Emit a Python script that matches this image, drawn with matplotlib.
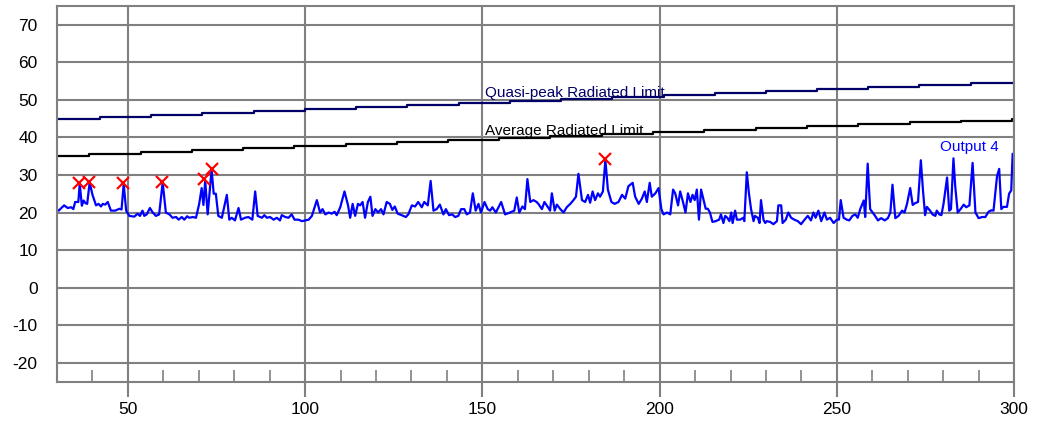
import numpy as np
import matplotlib.pyplot as plt
from matplotlib.ticker import MultipleLocator, FixedLocator

plt.rcParams['font.family'] = ['Liberation Sans', 'DejaVu Sans']
plt.rcParams['axes.unicode_minus'] = False

# measured trace (Output 4)
trace_freq = [
    30.0, 30.5, 31, 32, 33, 34, 34.6, 35.1, 36, 36.4, 37, 37.5, 38, 38.5, 39.2, 40, 41, 41.7, 42.4, 42.9,
    43.6, 44.3, 45.2, 46.4, 47.6, 48.2, 48.8, 49.5, 50.4, 51.8, 52.7, 53.4, 54.1, 54.6, 55.3, 56.2, 57, 57.9,
    58.8, 59.8, 60.7, 61.7, 62.6, 63.6, 64.3, 65.2, 65.9, 66.7, 67.3, 68.3, 69.2, 70.1, 70.8, 71.3, 71.8,
    72.5, 73.6, 74.2, 74.8, 75.5, 76.5, 77.9, 78.6, 79.3, 80.2, 81.2, 81.9, 83, 84, 85.1, 85.9, 86.6, 87.8,
    88.5, 89.2, 90.1, 91.1, 92, 92.9, 93.4, 94.4, 95.3, 96.2, 97, 98.1, 99.1, 100, 101, 101.9, 103.3, 104.2,
    104.9, 105.7, 106.6, 107.5, 108.3, 108.9, 109.9, 111.1, 112.1, 112.7, 113.4, 114.1, 114.9, 115.5, 116.2,
    116.9, 117.7, 118.4, 119, 119.8, 120.6, 121.4, 122.1, 123, 123.9, 124.6, 125.3, 126.1, 127.2, 128.4,
    129.1, 130.1, 131, 131.9, 132.9, 133.6, 134.6, 135.4, 136.2, 137.1, 138, 139, 139.7, 140.6, 141.5,
    142.3, 143.2, 144, 144.9, 145.6, 146.5, 147.3, 148.1, 148.9, 149.6, 150.6, 151.5, 152.2, 152.8, 153.8,
    155.3, 156.4, 157.8, 159, 159.7, 160.4, 161.3, 162, 162.7, 163.5, 164.4, 165.3, 165.8, 166.8, 167.5,
    168.5, 169.1, 169.6, 170.4, 171, 172, 172.9, 173.8, 174.8, 175.7, 176.4, 177.1, 178.1, 179, 179.8,
    180.4, 181.1, 181.8, 182.6, 183.2, 184, 184.7, 185.4, 186.4, 187.3, 188.4, 189.4, 190.3, 191.2, 192.4,
    193.1, 194.1, 195, 195.8, 196.4, 197.2, 197.8, 198.8, 199.7, 200.5, 201.1, 202.1, 203, 203.8, 204.4,
    205.2, 205.8, 206.6, 207.3, 208, 208.7, 209.3, 209.9, 210.5, 211.1, 211.7, 212.4, 213, 213.6, 214.2,
    214.9, 215.8, 216.8, 217.3, 218, 218.5, 219.1, 219.7, 220.2, 220.6, 221.3, 221.8, 222.7, 223.6, 223.9,
    224.6, 225.2, 225.8, 226.5, 226.9, 227.7, 228.2, 228.6, 229.3, 229.8, 230.2, 231.2, 232.1, 233.1,
    233.5, 234.3, 234.7, 235.6, 236.3, 237.1, 238, 239, 239.9, 240.9, 241.8, 242.7, 243.4, 244, 244.8,
    245.6, 246.5, 247.2, 248.1, 249.1, 250, 250.6, 251.1, 251.9, 252.8, 253.5, 254.4, 255.2, 255.9, 256.6,
    257.6, 258, 258.7, 259.4, 260.1, 260.8, 261.6, 262.5, 263.5, 264.4, 265.1, 265.7, 266.5, 267.4, 268.4,
    269.1, 269.8, 270.7, 271.4, 272.1, 272.9, 273.7, 274.3, 274.9, 275.4, 276.3, 277, 277.8, 278.2, 278.9,
    279.5, 280.1, 281.1, 281.7, 282.2, 282.9, 283.4, 284.1, 284.9, 285.8, 286.5, 287.4, 288.3, 289.1, 290,
    291, 291.9, 292.8, 293.6, 294.2, 295.2, 295.8, 296.4, 297, 298, 298.6, 299.2, 299.6, 300]
trace_level = [
    20.8, 20.5, 21, 21.9, 21.2, 21.4, 20.9, 22.8, 22.8, 27.6, 21.8, 23.2, 22.5, 22.3, 28, 24.7, 21.9, 22.3,
    21.6, 22.3, 22.1, 22.8, 20.5, 20.5, 21, 20.8, 27.6, 20.5, 19.1, 18.9, 19.7, 19.1, 20.5, 19.1, 19.5,
    21.2, 20, 19.1, 19.5, 28, 20, 19.5, 18.6, 18.8, 18.1, 18.8, 18.1, 19, 18.6, 18.8, 18.6, 22.3, 26.5, 22,
    28.5, 19.5, 31.4, 25, 25, 19.1, 18.6, 24.7, 18.1, 18.6, 17.9, 21.2, 18.1, 18.6, 18.8, 18.1, 25.6, 19.1,
    18.6, 19.3, 18.6, 18.8, 18.1, 18.6, 17.9, 19.3, 18.8, 18.6, 19.5, 18.1, 18.1, 17.7, 17.9, 18.1, 19.1,
    23.3, 20, 20.9, 19.5, 20, 19.7, 20.2, 19.3, 21.4, 25.6, 21.9, 18.6, 22.3, 19.1, 22.3, 21.9, 22.8, 18.6,
    22.8, 24.2, 19.1, 20.9, 20, 20.9, 19.5, 22.8, 22.3, 20.7, 21.6, 19.7, 19.3, 18.8, 19.5, 21.9, 21.6,
    22.8, 21.4, 22.8, 21.9, 28.4, 20.5, 20.9, 22.1, 19.5, 20.9, 19.3, 19.5, 18.8, 19.1, 20.9, 20.9, 19.5,
    20, 25.1, 20.5, 22.3, 20, 22.8, 20.9, 20.5, 21.4, 20, 22.8, 19.5, 20, 20.5, 24, 20, 21.6, 20.9, 28.9,
    22.8, 23.3, 22.8, 22.3, 20.9, 22.8, 21.4, 20.5, 25.1, 20.5, 22.1, 20.9, 20, 21.4, 22.3, 23.3, 24.2,
    30.3, 23.3, 22.8, 24.7, 22.6, 25.6, 23.3, 25.1, 24.2, 25.6, 34, 26.1, 22.8, 22.3, 22.8, 24.7, 23.7, 27,
    27.9, 24.2, 22.3, 23.7, 25.6, 22.8, 27.9, 24.2, 25.1, 26.5, 20.9, 19.5, 20, 19.5, 26.1, 25.1, 21.9,
    25.6, 22.8, 20, 25.1, 22.8, 24.7, 23.3, 26.1, 18.1, 26.1, 23.3, 21, 21, 20, 17.5, 17.7, 18.1, 19.5,
    17.2, 19.1, 18.6, 17.7, 20, 17.2, 20.5, 18.1, 18.1, 18.6, 17.7, 30.7, 25.1, 20.9, 17.7, 19.1, 18.6,
    17.2, 23.3, 18.1, 17.2, 17.7, 17.5, 16.9, 17.7, 21.9, 21.9, 17.2, 18.1, 20, 18.6, 18.1, 17.7, 16.9,
    18.1, 19.1, 17.9, 20, 18.6, 20.5, 17.7, 20, 18.1, 18.6, 17.2, 18.1, 18.1, 23.3, 18.6, 18.1, 17.9, 19.1,
    19.5, 18.6, 20.9, 23.2, 18.8, 33, 20.9, 20, 19.1, 17.9, 18.5, 17.9, 18.5, 20, 27.4, 18.5, 19.1, 20.5,
    20, 22.3, 26.5, 22, 22.5, 22.8, 33.9, 25.9, 19.3, 21.5, 20.5, 19.5, 19.1, 20.5, 19.5, 19.3, 22.3, 29.3,
    20.5, 20.9, 34.4, 27, 20, 20.9, 22.1, 21.4, 21.9, 33.2, 20, 18.5, 18.8, 18.8, 20.2, 20.6, 20.5, 29.7,
    31.6, 20.9, 21.5, 21.5, 25, 25.9, 35.6, 35.6]

# limit lines (stepped)
qp_freq = [30, 42.1, 56.6, 71.0, 85.5, 99.9, 114.4, 128.8, 143.3, 157.7, 172.2, 186.6, 201.1, 215.5,
           230.0, 244.4, 258.9, 273.3, 287.8, 300]
qp_level = [45.00, 45.53, 46.05, 46.58, 47.11, 47.63, 48.16, 48.68, 49.21, 49.74, 50.26, 50.79, 51.32,
            51.84, 52.37, 52.89, 53.42, 53.95, 54.47, 54.47]
avg_freq = [30, 39.1, 53.6, 68.0, 82.5, 96.9, 111.4, 125.9, 140.3, 154.8, 169.2, 183.7, 198.2, 212.6,
            227.1, 241.5, 256.0, 270.5, 284.9, 299.4, 300]
avg_level = [35.00, 35.53, 36.05, 36.58, 37.11, 37.63, 38.16, 38.68, 39.21, 39.74, 40.26, 40.79, 41.32,
             41.84, 42.37, 42.89, 43.42, 43.95, 44.47, 45.00, 45.00]

# flagged peaks
peak_freq = [36.3, 39.1, 48.7, 59.7, 71.6, 73.6, 184.7]
peak_level = [27.8, 28.2, 27.8, 28.2, 28.8, 31.6, 34.1]

grid_col = '#808080'

fig = plt.figure(figsize=(10.39, 4.23), dpi=100)
ax = fig.add_axes([0.0549, 0.0976, 0.9211, 0.8889])

ax.set_xlim(30, 300)
ax.set_ylim(-25, 75)
ax.xaxis.set_major_locator(MultipleLocator(50))
ax.xaxis.set_minor_locator(FixedLocator([f for f in range(40, 300, 10) if f % 50 != 0]))
ax.yaxis.set_major_locator(FixedLocator(range(-20, 71, 10)))
ax.grid(True, which='major', color=grid_col, lw=1.5)
ax.set_axisbelow(True)
for s in ax.spines.values():
    s.set_color(grid_col)
    s.set_linewidth(1.5)

ax.tick_params(axis='y', length=0, pad=14, labelsize=12.5)
ax.tick_params(axis='x', which='major', direction='out', length=10.5, width=1.5, color=grid_col,
               pad=4, labelsize=12.5)
ax.tick_params(axis='x', which='minor', direction='in', length=9, width=1.2, color=grid_col)

ax.step(qp_freq, qp_level, where='post', color='#000066', lw=1.6)
ax.step(avg_freq, avg_level, where='post', color='black', lw=1.6)
ax.plot(trace_freq, trace_level, color='#0000ff', lw=1.6)
ax.plot(peak_freq, peak_level, 'x', color='#ff0000', ms=9, mew=1.6)

ax.text(150.8, 50.8, 'Quasi-peak Radiated Limit', color='#000066', fontsize=11)
ax.text(150.8, 40.7, 'Average Radiated Limit', color='black', fontsize=11)
ax.text(295.8, 36.3, 'Output 4', color='#0000ff', fontsize=11, ha='right')

fig.savefig('out.png', dpi=100)
